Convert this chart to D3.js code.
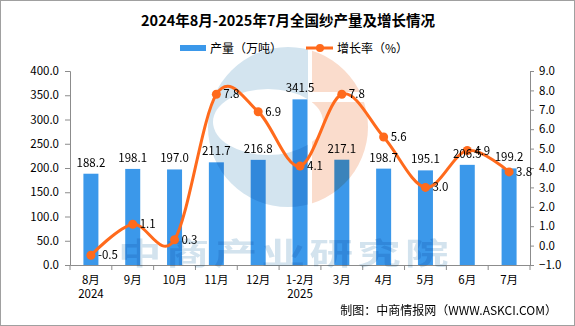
<!DOCTYPE html>
<html>
<head>
<meta charset="utf-8">
<script src="https://cdn.jsdelivr.net/npm/d3@7"></script>
<style>
  body { margin: 0; background: #fff; }
  svg { display: block; font-family: "Noto Sans CJK SC", "Noto Sans", sans-serif; }
</style>
</head>
<body>
<svg id="chart"></svg>
<script>
const months = ['8月', '9月', '10月', '11月', '12月', '1-2月', '3月', '4月', '5月', '6月', '7月'];
const years = ['2024', '', '', '', '', '2025', '', '', '', '', ''];
const output = [188.2, 198.1, 197.0, 211.7, 216.8, 341.5, 217.1, 198.7, 195.1, 206.5, 199.2];
const growth = [-0.5, 1.1, 0.3, 7.8, 6.9, 4.1, 7.8, 5.6, 3.0, 4.9, 3.8];
const leftTicks = [0, 50, 100, 150, 200, 250, 300, 350, 400];
const rightTicks = [-1, 0, 1, 2, 3, 4, 5, 6, 7, 8, 9];

const width = 575, height = 326;
const m = { left: 70, right: 45, top: 71, bottom: 61 };
const barColor = '#3b98ea', lineColor = '#ff6a1c', axisColor = '#8c8c8c';

const svg = d3.select('#chart').attr('width', width).attr('height', height);

svg.append('rect')
  .attr('x', 0.5).attr('y', 0.5)
  .attr('width', width - 1).attr('height', height - 1)
  .attr('fill', '#fff').attr('stroke', '#a0a0a0');

const x = d3.scaleBand().domain(months).range([m.left, width - m.right]);
const yL = d3.scaleLinear().domain([0, 400]).range([height - m.bottom, m.top]);
const yR = d3.scaleLinear().domain([-1, 9]).range([height - m.bottom, m.top]);

// title
svg.append('text')
  .attr('x', 288).attr('y', 26)
  .attr('text-anchor', 'middle')
  .style('font-size', '14.5px').style('font-weight', 'bold')
  .text('2024年8月-2025年7月全国纱产量及增长情况');

// legend
const lg = svg.append('g').style('font-size', '12px');
lg.append('rect').attr('x', 180).attr('y', 45).attr('width', 26).attr('height', 6).attr('fill', barColor);
lg.append('text').attr('x', 210).attr('y', 52.5).text('产量（万吨）');
lg.append('line').attr('x1', 306).attr('x2', 333).attr('y1', 48).attr('y2', 48)
  .attr('stroke', lineColor).attr('stroke-width', 3);
lg.append('circle').attr('cx', 320).attr('cy', 48).attr('r', 4).attr('fill', lineColor);
lg.append('text').attr('x', 337).attr('y', 52.5).text('增长率（%）');

// axes
const axL = svg.append('g')
  .attr('transform', `translate(${m.left},0)`)
  .call(d3.axisLeft(yL).tickValues(leftTicks).tickSize(5).tickFormat(d3.format('.1f')));
const axR = svg.append('g')
  .attr('transform', `translate(${width - m.right},0)`)
  .call(d3.axisRight(yR).tickValues(rightTicks).tickSize(4).tickFormat(d3.format('.1f')));
const axB = svg.append('g')
  .attr('transform', `translate(0,${height - m.bottom})`)
  .call(d3.axisBottom(x).tickSize(0).tickFormat(''));

[axL, axR, axB].forEach(g => {
  g.select('.domain').attr('stroke', axisColor);
  g.selectAll('.tick line').attr('stroke', axisColor);
  g.selectAll('text').attr('fill', '#000').style('font-size', '11.5px')
    .style('font-family', '"Noto Sans CJK SC", sans-serif');
});
axL.selectAll('text').attr('dx', '-3');
axR.selectAll('text').attr('dx', '2');

// x tick marks at band boundaries
const bounds = months.map(d => x(d)).concat([width - m.right]);
svg.append('g').selectAll('line').data(bounds).enter().append('line')
  .attr('x1', d => d).attr('x2', d => d)
  .attr('y1', height - m.bottom).attr('y2', height - m.bottom + 5)
  .attr('stroke', axisColor);

const xl = svg.append('g').style('font-size', '11.5px').attr('text-anchor', 'middle');
xl.selectAll('text.m').data(months).enter().append('text')
  .attr('x', d => x(d) + x.bandwidth() / 2).attr('y', 284).text(d => d);
xl.selectAll('text.yr').data(years).enter().append('text')
  .attr('x', (d, i) => x(months[i]) + x.bandwidth() / 2).attr('y', 298).text(d => d);

// bars
const bw = 15;
svg.append('g').selectAll('rect').data(output).enter().append('rect')
  .attr('x', (d, i) => x(months[i]) + x.bandwidth() / 2 - bw / 2)
  .attr('y', d => yL(d))
  .attr('width', bw)
  .attr('height', d => yL(0) - yL(d))
  .attr('fill', barColor);

// watermark
const wm = svg.append('g').style('mix-blend-mode', 'multiply');
const clip = svg.append('clipPath').attr('id', 'logoClip');
clip.append('circle').attr('cx', 288).attr('cy', 127).attr('r', 80);
const logo = wm.append('g').attr('clip-path', 'url(#logoClip)');
logo.append('rect').attr('x', 200).attr('y', 40).attr('width', 108).attr('height', 180).attr('fill', '#d3e4ef');
logo.append('rect').attr('x', 312).attr('y', 40).attr('width', 70).attr('height', 180).attr('fill', '#fadccc');
logo.append('ellipse').attr('cx', 268).attr('cy', 122).attr('rx', 55).attr('ry', 33).attr('fill', '#fff');
logo.append('rect').attr('x', 312).attr('y', 92).attr('width', 70).attr('height', 10).attr('fill', '#fff');
wm.append('text')
  .attr('transform', 'translate(118,264) scale(1.45,1)')
  .style('font-size', '30px').style('font-weight', 'bold')
  .style('letter-spacing', '3px')
  .attr('fill', '#d3e3ee')
  .text('中商产业研究院');

// line
const pts = growth.map((d, i) => [x(months[i]) + x.bandwidth() / 2, yR(d)]);
svg.append('path')
  .attr('d', d3.line().curve(d3.curveCardinal.tension(0))(pts))
  .attr('fill', 'none').attr('stroke', lineColor).attr('stroke-width', 3);
svg.append('g').selectAll('circle').data(pts).enter().append('circle')
  .attr('cx', d => d[0]).attr('cy', d => d[1]).attr('r', 4.5).attr('fill', lineColor);

// labels
const lab = svg.append('g').style('font-size', '11.5px');
lab.selectAll('text.b').data(output).enter().append('text')
  .attr('x', (d, i) => x(months[i]) + x.bandwidth() / 2)
  .attr('y', d => yL(d) - 7)
  .attr('text-anchor', 'middle')
  .text(d => d.toFixed(1));
lab.selectAll('text.g').data(growth).enter().append('text')
  .attr('x', (d, i) => pts[i][0] + 7)
  .attr('y', d => yR(d) + 4)
  .text(d => d.toFixed(1));

// footer
svg.append('text')
  .attr('x', 557).attr('y', 315)
  .attr('text-anchor', 'end')
  .style('font-size', '12px')
  .text('制图：中商情报网（WWW.ASKCI.COM）');
</script>
</body>
</html>
